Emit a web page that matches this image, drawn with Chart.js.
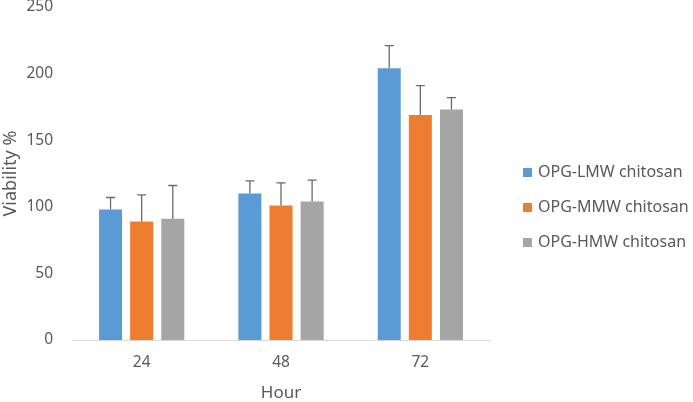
<!DOCTYPE html>
<html>
<head>
<meta charset="utf-8">
<script src="https://cdn.jsdelivr.net/npm/chart.js@4.4.1/dist/chart.umd.min.js"></script>
<style>
  html, body { margin: 0; padding: 0; background: #fff; }
  #wrap { width: 693px; height: 402px; }
</style>
</head>
<body>
<div id="wrap"><canvas id="chart"></canvas></div>
<script>
// DATA
const hours = ["24", "48", "72"];
const seriesNames = ["OPG-LMW chitosan", "OPG-MMW chitosan", "OPG-HMW chitosan"];
const lmwValues = [98, 110, 204];
const mmwValues = [89, 101, 169];
const hmwValues = [91, 104, 173];
const lmwErrors = [9, 9.5, 17];
const mmwErrors = [20, 17, 22];
const hmwErrors = [25, 16, 9];
const yTicks = [0, 50, 100, 150, 200, 250];

const colors = ["#5B9BD5", "#ED7D31", "#A5A5A5"];
const textColor = "#595959";
const fontFamily = "'Noto Sans', 'Open Sans', sans-serif";

// ERROR BARS (drawn through the y scale)
const errorBarPlugin = {
  id: "errorBars",
  afterDatasetsDraw(chart) {
    const ctx = chart.ctx;
    const yScale = chart.scales.y;
    ctx.save();
    ctx.strokeStyle = "#6b6b6b";
    ctx.lineWidth = 1.3;
    chart.data.datasets.forEach((ds, di) => {
      const meta = chart.getDatasetMeta(di);
      meta.data.forEach((bar, i) => {
        const top = yScale.getPixelForValue(ds.data[i]);
        const end = yScale.getPixelForValue(ds.data[i] + ds.errors[i]);
        ctx.beginPath();
        ctx.moveTo(bar.x, top);
        ctx.lineTo(bar.x, end);
        ctx.moveTo(bar.x - 4.5, end);
        ctx.lineTo(bar.x + 4.5, end);
        ctx.stroke();
      });
    });
    ctx.restore();
  }
};

// LEGEND on the right, drawn from the dataset labels/colours
const sideLegendPlugin = {
  id: "sideLegend",
  afterDraw(chart) {
    const ctx = chart.ctx;
    const left = chart.chartArea.right + 33;
    const firstY = 172.5;
    const step = 35;
    ctx.save();
    ctx.font = "16px " + fontFamily;
    ctx.textBaseline = "middle";
    ctx.textAlign = "left";
    chart.data.datasets.forEach((ds, i) => {
      const y = firstY + i * step;
      ctx.fillStyle = ds.backgroundColor;
      ctx.fillRect(left, y - 4.5, 9, 9);
      ctx.fillStyle = textColor;
      ctx.fillText(ds.label, left + 15, y);
    });
    ctx.restore();
  }
};

function makeDataset(label, values, errors, color) {
  return {
    label: label,
    data: values,
    errors: errors,
    backgroundColor: color,
    borderWidth: 0,
    categoryPercentage: 0.67,
    barPercentage: 0.74
  };
}

new Chart(document.getElementById("chart"), {
  type: "bar",
  data: {
    labels: hours,
    datasets: [
      makeDataset(seriesNames[0], lmwValues, lmwErrors, colors[0]),
      makeDataset(seriesNames[1], mmwValues, mmwErrors, colors[1]),
      makeDataset(seriesNames[2], hmwValues, hmwErrors, colors[2])
    ]
  },
  options: {
    responsive: true,
    maintainAspectRatio: false,
    animation: false,
    layout: { padding: { top: 0, left: 0, right: 203, bottom: 0 } },
    plugins: {
      tooltip: { enabled: false },
      legend: { display: false }
    },
    scales: {
      x: {
        grid: { display: false, drawTicks: false },
        border: { color: "#D9D9D9", width: 1 },
        ticks: { color: textColor, padding: 13, font: { family: fontFamily, size: 15.5 } },
        title: { display: true, text: "Hour", color: textColor, padding: { top: 0, bottom: 0 }, font: { family: fontFamily, size: 17, lineHeight: 1 } },
        afterFit(axis) { axis.height = 62; }
      },
      y: {
        min: 0,
        max: 250,
        afterBuildTicks(axis) { axis.ticks = yTicks.map(v => ({ value: v })); },
        grid: { display: false, drawTicks: false },
        border: { display: false },
        ticks: { color: textColor, padding: 19, font: { family: fontFamily, size: 15.5 } },
        title: { display: true, text: "Viability %", color: textColor, padding: { top: 0, bottom: 5 }, font: { family: fontFamily, size: 18 } },
        afterFit(axis) { axis.width = 72; axis.paddingTop = 7; }
      }
    }
  },
  plugins: [errorBarPlugin, sideLegendPlugin]
});
</script>
</body>
</html>
